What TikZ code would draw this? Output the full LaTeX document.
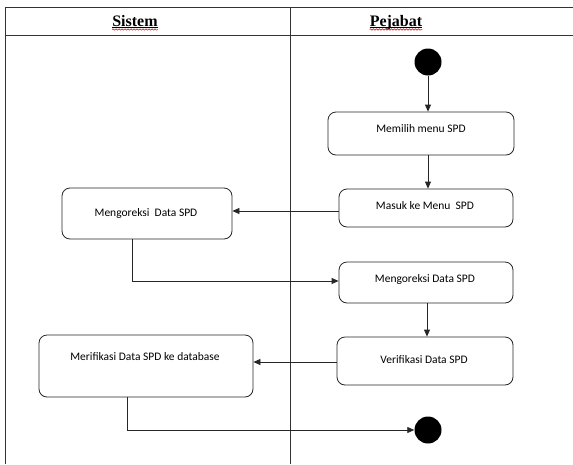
\documentclass[tikz,border=0pt]{standalone}
\usepackage{fontspec}
\setmainfont{Liberation Serif}
\newfontfamily\calib{Carlito}
\usetikzlibrary{arrows.meta,decorations.pathmorphing}

\tikzset{
  frame/.style={draw=black!80, line width=0.8pt},
  actbox/.style={draw=black!85, line width=0.8pt, rounded corners=8pt, fill=white},
  lbl/.style={font=\calib\fontsize{11.5}{13}\selectfont, inner sep=0pt},
  head/.style={font=\bfseries\fontsize{16}{18}\selectfont, inner sep=0pt, anchor=base},
  uline/.style={draw=black, line width=0.7pt},
  dot/.style={circle, fill=black, minimum size=27pt, inner sep=0pt},
  flow/.style={draw=black!85, line width=0.8pt, -{Triangle[length=7pt,width=6pt]}},
  plain/.style={draw=black!85, line width=0.8pt},
  wavy/.style={draw=red!85!black, line width=0.5pt, decorate,
    decoration={snake, amplitude=0.7pt, segment length=3pt}}
}

\begin{document}
\begin{tikzpicture}[x=1pt, y=-1pt]
\useasboundingbox (0,0) rectangle (573,464);

% swimlane frame
\coordinate (tl) at (5,7);
\coordinate (tr) at (573,7);
\coordinate (hl) at (5,35);
\coordinate (hr) at (573,35);
\coordinate (bl) at (5,464);
\coordinate (dt) at (290,7);
\coordinate (db) at (290,464);
\draw[frame] (tr) -- (tl) -- (bl);
\draw[frame] (hl) -- (hr);
\draw[frame] (dt) -- (db);

% lane headers, underlined, with a spell-check squiggle
\node[head] (hs) at (135,26) {Sistem};
\node[head] (hp) at (396,26) {Pejabat};
\draw[uline] ([yshift=-1.5pt]hs.base west) -- ([yshift=-1.5pt]hs.base east);
\draw[uline] ([yshift=-1.5pt]hp.base west) -- ([yshift=-1.5pt]hp.base east);
\draw[wavy] ([yshift=-3.5pt]hs.base west) -- ([yshift=-3.5pt]hs.base east);
\draw[wavy] ([yshift=-3.5pt]hp.base west) -- ([yshift=-3.5pt]hp.base east);

% start and end
\node[dot] (start) at (428,62) {};
\node[dot] (end) at (428,430) {};

% activities (Pejabat)
\node[actbox, minimum width=186pt, minimum height=43pt] (b1) at (421,133.5) {};
\node[lbl] (t1) at (421,128.5) {Memilih menu SPD};
\node[actbox, minimum width=174pt, minimum height=38pt] (b2) at (426,208) {};
\node[lbl] (t2) at (425,206) {Masuk ke Menu \ SPD};
\node[actbox, minimum width=174pt, minimum height=41pt] (b4) at (426,282.5) {};
\node[lbl] (t4) at (425,279.5) {Mengoreksi Data SPD};
\node[actbox, minimum width=176pt, minimum height=48pt] (b5) at (425,361) {};
\node[lbl] (t5) at (424,360) {Verifikasi Data SPD};

% activities (Sistem)
\node[actbox, minimum width=170pt, minimum height=51pt] (b3) at (147,213.5) {};
\node[lbl] (t3) at (146,213) {Mengoreksi \ Data SPD};
\node[actbox, minimum width=214pt, minimum height=62pt] (b6) at (146,366) {};
\node[lbl] (t6) at (145,357) {Merifikasi Data SPD ke database};

% control flow
\draw[flow] (start) -- (start |- b1.north);
\draw[flow] (start |- b1.south) -- (start |- b2.north);
\draw[flow] (b2.west |- 0,211) -- (b3.east |- 0,211);
\draw[plain] (132,0 |- b3.south) coordinate (c1) -- (132,281) coordinate (c2);
\draw[flow] (c2) -- (b4.west |- c2);
\draw[flow] (427,0 |- b4.south) -- (427,0 |- b5.north);
\draw[flow] (b5.west |- 0,362) -- (b6.east |- 0,362);
\draw[plain] (127,0 |- b6.south) coordinate (c3) -- (127,430) coordinate (c4);
\draw[flow] (c4) -- (end);
\end{tikzpicture}
\end{document}
